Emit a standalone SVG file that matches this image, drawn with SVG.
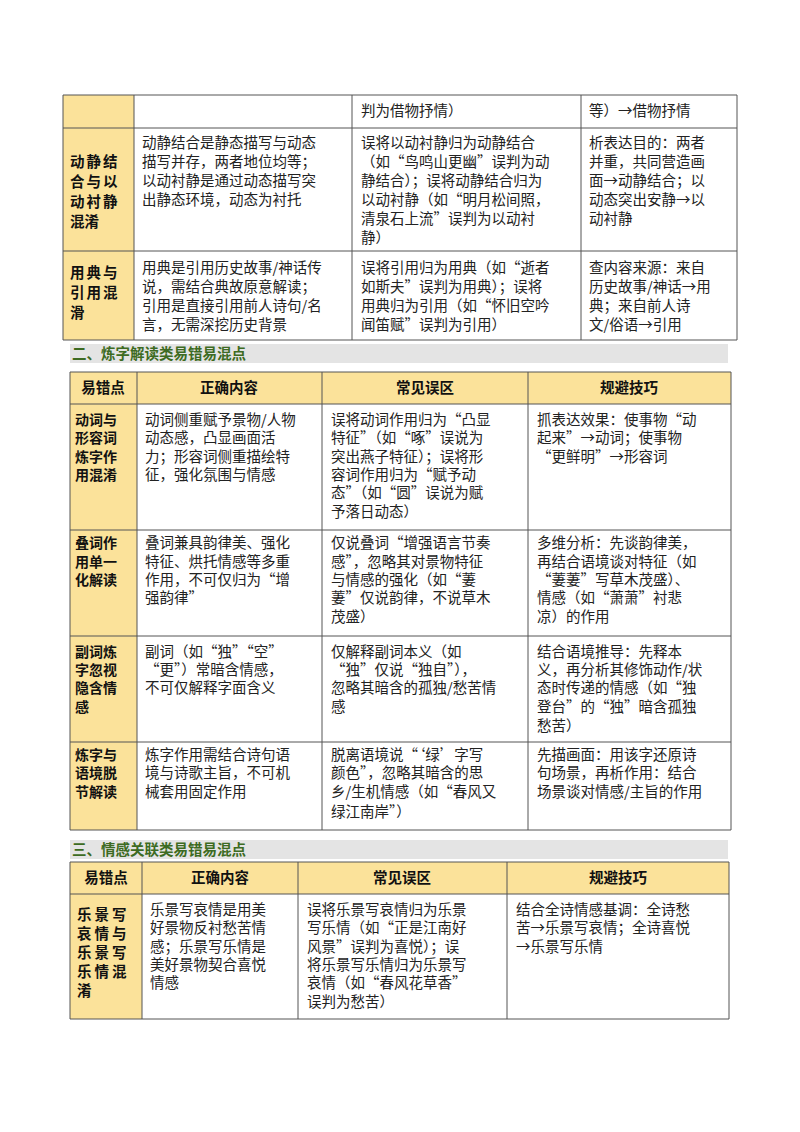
<svg xmlns="http://www.w3.org/2000/svg" width="800" height="1132" viewBox="0 0 800 1132">
<style>
text{font-family:"Noto Sans CJK SC","Liberation Serif",sans-serif;font-size:14.5px;fill:#222}
.b{font-family:"Noto Sans CJK SC",sans-serif;font-weight:bold;font-size:14.5px;fill:#111}
.s{font-size:14px}
.h{font-family:"Noto Sans CJK SC",sans-serif;font-weight:bold;font-size:14.5px;fill:#3d6b22}
.ln{stroke:#555;stroke-width:1;fill:none}
.y{fill:#fbe29a}
.band{fill:#e4e4e4}
</style>
<rect width="800" height="1132" fill="#fff"/>
<g id="table1">
<rect class="y" x="63" y="95" width="71" height="245"/>
<path class="ln" d="M63 95H737V340H63Z M63 128H737 M63 251H737 M134 95V340 M352 95V340 M581 95V340"/>
<text x="361" y="116">判为借物抒情）</text>
<text x="589" y="116">等）→借物抒情</text>
<text class="b" x="70" y="167" letter-spacing="2">动静结</text><text class="b" x="70" y="187" letter-spacing="2">合与以</text><text class="b" x="70" y="207" letter-spacing="2">动衬静</text><text class="b" x="70" y="227">混淆</text>
<text x="142" y="148">动静结合是静态描写与动态</text><text x="142" y="167">描写并存，两者地位均等；</text><text x="142" y="186">以动衬静是通过动态描写突</text><text x="142" y="205">出静态环境，动态为衬托</text>
<text x="361" y="148">误将以动衬静归为动静结合</text><text x="361" y="167">（如“鸟鸣山更幽”误判为动</text><text x="361" y="186">静结合）；误将动静结合归为</text><text x="361" y="205">以动衬静（如“明月松间照，</text><text x="361" y="224">清泉石上流”误判为以动衬</text><text x="361" y="243">静）</text>
<text x="589" y="148">析表达目的：两者</text><text x="589" y="167">并重，共同营造画</text><text x="589" y="186">面→动静结合；以</text><text x="589" y="205">动态突出安静→以</text><text x="589" y="224">动衬静</text>
<text class="b" x="70" y="278" letter-spacing="2">用典与</text><text class="b" x="70" y="298" letter-spacing="2">引用混</text><text class="b" x="70" y="318">滑</text>
<text x="142" y="273">用典是引用历史故事/神话传</text><text x="142" y="292">说，需结合典故原意解读；</text><text x="142" y="311">引用是直接引用前人诗句/名</text><text x="142" y="330">言，无需深挖历史背景</text>
<text x="361" y="273">误将引用归为用典（如“逝者</text><text x="361" y="292">如斯夫”误判为用典）；误将</text><text x="361" y="311">用典归为引用（如“怀旧空吟</text><text x="361" y="330">闻笛赋”误判为引用）</text>
<text x="589" y="273">查内容来源：来自</text><text x="589" y="292">历史故事/神话→用</text><text x="589" y="311">典；来自前人诗</text><text x="589" y="330">文/俗语→引用</text>
</g>
<g id="section2">
<rect class="band" x="70" y="344" width="658" height="19"/>
<text class="h" x="72" y="359">二、炼字解读类易错易混点</text>
</g>
<g id="table2">
<rect class="y" x="70" y="372" width="661" height="32"/>
<rect class="y" x="70" y="404" width="67" height="426"/>
<path class="ln" d="M70 372H731V830H70Z M70 404H731 M70 530H731 M70 636H731 M70 742H731 M137 372V830 M322 372V830 M528 372V830"/>
<text class="b" x="103" y="393" text-anchor="middle">易错点</text>
<text class="b" x="229" y="393" text-anchor="middle">正确内容</text>
<text class="b" x="425" y="393" text-anchor="middle">常见误区</text>
<text class="b" x="629" y="393" text-anchor="middle">规避技巧</text>
<g class="s">
<text class="b s" x="75" y="425">动词与</text><text class="b s" x="75" y="443">形容词</text><text class="b s" x="75" y="462">炼字作</text><text class="b s" x="75" y="480">用混淆</text>
<text class="b s" x="75" y="548">叠词作</text><text class="b s" x="75" y="567">用单一</text><text class="b s" x="75" y="585">化解读</text>
<text class="b s" x="75" y="657">副词炼</text><text class="b s" x="75" y="675">字忽视</text><text class="b s" x="75" y="693">隐含情</text><text class="b s" x="75" y="712">感</text>
<text class="b s" x="75" y="760">炼字与</text><text class="b s" x="75" y="778">语境脱</text><text class="b s" x="75" y="797">节解读</text>
</g>
<text x="145" y="425">动词侧重赋予景物/人物</text><text x="145" y="443">动态感，凸显画面活</text><text x="145" y="462">力；形容词侧重描绘特</text><text x="145" y="480">征，强化氛围与情感</text>
<text x="331" y="425">误将动词作用归为“凸显</text><text x="331" y="443">特征”（如“啄”误说为</text><text x="331" y="462">突出燕子特征）；误将形</text><text x="331" y="480">容词作用归为“赋予动</text><text x="331" y="498">态”（如“圆”误说为赋</text><text x="331" y="517">予落日动态）</text>
<text x="537" y="425">抓表达效果：使事物“动</text><text x="537" y="443">起来”→动词；使事物</text><text x="537" y="462">“更鲜明”→形容词</text>
<text x="145" y="548">叠词兼具韵律美、强化</text><text x="145" y="567">特征、烘托情感等多重</text><text x="145" y="585">作用，不可仅归为“增</text><text x="145" y="603">强韵律”</text>
<text x="331" y="548">仅说叠词“增强语言节奏</text><text x="331" y="567">感”，忽略其对景物特征</text><text x="331" y="585">与情感的强化（如“萋</text><text x="331" y="603">萋”仅说韵律，不说草木</text><text x="331" y="622">茂盛）</text>
<text x="537" y="548">多维分析：先谈韵律美，</text><text x="537" y="567">再结合语境谈对特征（如</text><text x="537" y="585">“萋萋”写草木茂盛）、</text><text x="537" y="603">情感（如“萧萧”衬悲</text><text x="537" y="622">凉）的作用</text>
<text x="145" y="657">副词（如“独”“空”</text><text x="145" y="675">“更”）常暗含情感，</text><text x="145" y="693">不可仅解释字面含义</text>
<text x="331" y="657">仅解释副词本义（如</text><text x="331" y="675">“独”仅说“独自”），</text><text x="331" y="693">忽略其暗含的孤独/愁苦情</text><text x="331" y="712">感</text>
<text x="537" y="657">结合语境推导：先释本</text><text x="537" y="675">义，再分析其修饰动作/状</text><text x="537" y="693">态时传递的情感（如“独</text><text x="537" y="712">登台”的“独”暗含孤独</text><text x="537" y="731">愁苦）</text>
<text x="145" y="760">炼字作用需结合诗句语</text><text x="145" y="778">境与诗歌主旨，不可机</text><text x="145" y="797">械套用固定作用</text>
<text x="331" y="760">脱离语境说“‘绿’字写</text><text x="331" y="778">颜色”，忽略其暗含的思</text><text x="331" y="797">乡/生机情感（如“春风又</text><text x="331" y="817">绿江南岸”）</text>
<text x="537" y="760">先描画面：用该字还原诗</text><text x="537" y="778">句场景，再析作用：结合</text><text x="537" y="797">场景谈对情感/主旨的作用</text>
</g>
<g id="section3">
<rect class="band" x="70" y="840" width="658" height="19"/>
<text class="h" x="72" y="855">三、情感关联类易错易混点</text>
</g>
<g id="table3">
<rect class="y" x="70" y="862" width="659" height="32"/>
<rect class="y" x="70" y="894" width="72" height="125"/>
<path class="ln" d="M70 862H729V1019H70Z M70 894H729 M142 862V1019 M298 862V1019 M507 862V1019"/>
<text class="b" x="106" y="883" text-anchor="middle">易错点</text>
<text class="b" x="220" y="883" text-anchor="middle">正确内容</text>
<text class="b" x="402" y="883" text-anchor="middle">常见误区</text>
<text class="b" x="618" y="883" text-anchor="middle">规避技巧</text>
<text class="b" x="77" y="920" letter-spacing="3">乐景写</text><text class="b" x="77" y="939" letter-spacing="3">哀情与</text><text class="b" x="77" y="958" letter-spacing="3">乐景写</text><text class="b" x="77" y="977" letter-spacing="3">乐情混</text><text class="b" x="77" y="996">淆</text>
<text x="150" y="915">乐景写哀情是用美</text><text x="150" y="933">好景物反衬愁苦情</text><text x="150" y="952">感；乐景写乐情是</text><text x="150" y="970">美好景物契合喜悦</text><text x="150" y="988">情感</text>
<text x="307" y="915">误将乐景写哀情归为乐景</text><text x="307" y="933">写乐情（如“正是江南好</text><text x="307" y="952">风景”误判为喜悦）；误</text><text x="307" y="970">将乐景写乐情归为乐景写</text><text x="307" y="988">哀情（如“春风花草香”</text><text x="307" y="1007">误判为愁苦）</text>
<text x="516" y="915">结合全诗情感基调：全诗愁</text><text x="516" y="933">苦→乐景写哀情；全诗喜悦</text><text x="516" y="952">→乐景写乐情</text>
</g>
</svg>
